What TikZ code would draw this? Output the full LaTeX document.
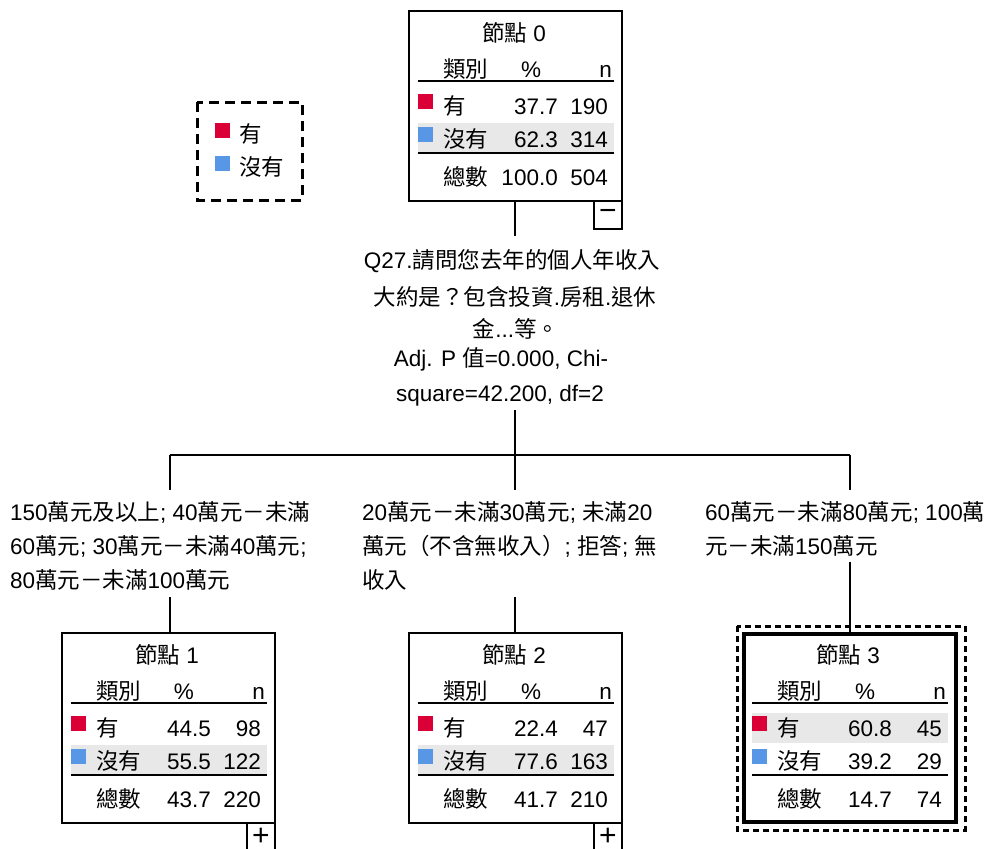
\documentclass[tikz,border=0pt]{standalone}
\usepackage{fontspec}
\setmainfont{Liberation Sans}
\newfontfamily\cjk{Noto Sans CJK TC}
\newcommand\C[1]{{\cjk #1}}
\definecolor{cyes}{RGB}{218,0,55}
\definecolor{cno}{RGB}{88,150,230}
\definecolor{bandgray}{RGB}{232,232,232}
\tikzset{
  txt/.style={inner sep=0pt,font=\fontsize{22.5}{26}\selectfont,text height=19.8pt,text depth=2.7pt},
  nodebox/.style={draw,line width=1.2pt,minimum width=213pt,minimum height=190pt,inner sep=0pt},
  selbox/.style={draw,line width=4pt,minimum width=212pt,minimum height=188pt,inner sep=0pt},
  rule/.style={line width=1.3pt},
  conn/.style={line width=1.2pt},
  togglebox/.style={draw,line width=1.2pt,minimum width=28pt,minimum height=28pt,inner sep=0pt,font=\fontsize{30}{32}\selectfont}
}
% #1 name, #2 x, #3 y, #4 title number, #5 band top, #6 box style
\newcommand\TreeNode[6]{%
\begin{scope}[shift={(#2,#3)}]
  \fill[bandgray] (9,#5) rectangle (205,#5+30);
  \node[#6] (#1) at (106.5,95) {};
  \node[txt] (#1-title) at (105,22) {\C{節點} #4};
  \node[txt,anchor=west] (#1-hcat) at (34,58) {\C{類別}};
  \node[txt] (#1-hpct) at (122,58) {\%};
  \node[txt,anchor=east] (#1-hn) at (203,58) {n};
  \draw[rule] (9,70) -- (205,70);
  \fill[cyes] (9,83) rectangle (24,98);
  \node[txt,anchor=west] (#1-c1) at (34,95) {\C{有}};
  \fill[cno] (9,116) rectangle (24,131);
  \node[txt,anchor=west] (#1-c2) at (34,128) {\C{沒有}};
  \draw[rule] (9,142) -- (205,142);
  \node[txt,anchor=west] (#1-ct) at (34,166) {\C{總數}};
\end{scope}}
% #1 name, #2 x, #3 y, values
\newcommand\TreeVals[9]{%
\begin{scope}[shift={(#2,#3)}]
  \node[txt,anchor=east] (#1-p1) at (149,95) {#4};
  \node[txt,anchor=east] (#1-n1) at (199,95) {#5};
  \node[txt,anchor=east] (#1-p2) at (149,128) {#6};
  \node[txt,anchor=east] (#1-n2) at (199,128) {#7};
  \node[txt,anchor=east] (#1-pt) at (149,166) {#8};
  \node[txt,anchor=east] (#1-nt) at (199,166) {#9};
\end{scope}}
% #1 name, #2 x, #3 y, #4 symbol
\newcommand\TreeToggle[4]{%
\begin{scope}[shift={(#2,#3)}]
  \node[togglebox] (#1-toggle) at (199,204) {#4};
  \draw[line width=2.6pt] (213,0) -- (213,218.6);
\end{scope}}

\begin{document}
\begin{tikzpicture}[x=1pt,y=-1pt]
\useasboundingbox[fill=white] (0,0) rectangle (989,849);

% legend
\draw[line width=3pt,dash pattern=on 10pt off 6pt] (197,102) rectangle (302,200);
\fill[cyes] (215,123) rectangle (230,138);
\node[txt,anchor=west] (leg1) at (239,134) {\C{有}};
\fill[cno] (215,156) rectangle (230,171);
\node[txt,anchor=west] (leg2) at (239,167) {\C{沒有}};

% nodes
\TreeNode{n0}{409}{11}{0}{112}{nodebox}
\TreeVals{n0}{409}{11}{37.7}{190}{62.3}{314}{100.0}{504}
\TreeToggle{n0}{409}{11}{−}

\TreeNode{n1}{62}{633}{1}{112}{nodebox}
\TreeVals{n1}{62}{633}{44.5}{98}{55.5}{122}{43.7}{220}
\TreeToggle{n1}{62}{633}{+}

\TreeNode{n2}{409}{633}{2}{112}{nodebox}
\TreeVals{n2}{409}{633}{22.4}{47}{77.6}{163}{41.7}{210}
\TreeToggle{n2}{409}{633}{+}

\TreeNode{n3}{743}{633}{3}{80}{selbox}
\TreeVals{n3}{743}{633}{60.8}{45}{39.2}{29}{14.7}{74}
\draw[line width=3pt,dash pattern=on 6pt off 4pt] (737,626) rectangle (965,830);

% split text
\node[txt] (sp1) at (512,260) {Q27.\C{請問您去年的個人年收入}};
\node[txt] (sp2) at (515,297) {\C{大約是？包含投資}.\C{房租}.\C{退休}};
\node[txt] (sp3) at (516,329) {\C{金}...\C{等。}};
\node[txt] (sp4) at (501,358) {Adj. P \C{值}=0.000, Chi-};
\node[txt] (sp5) at (500,393) {square=42.200, df=2};

% branch labels
\node[txt,anchor=west] (bl1) at (10,512) {150\C{萬元及以上}; 40\C{萬元－未滿}};
\node[txt,anchor=west] (bl2) at (10,546) {60\C{萬元}; 30\C{萬元－未滿}40\C{萬元};};
\node[txt,anchor=west] (bl3) at (10,580) {80\C{萬元－未滿}100\C{萬元}};
\node[txt,anchor=west] (bm1) at (362,512) {20\C{萬元－未滿}30\C{萬元}; \C{未滿}20};
\node[txt,anchor=west] (bm2) at (362,546) {\C{萬元（不含無收入）}; \C{拒答}; \C{無}};
\node[txt,anchor=west] (bm3) at (362,580) {\C{收入}};
\node[txt,anchor=west] (br1) at (705,512) {60\C{萬元－未滿}80\C{萬元}; 100\C{萬}};
\node[txt,anchor=west] (br2) at (705,546) {\C{元－未滿}150\C{萬元}};

% connectors
\coordinate (sTop) at (515,236);
\coordinate (sBot) at (515,410);
\coordinate (hub) at (515,455);
\coordinate (hubL) at (170,455);
\coordinate (hubR) at (850,455);
\coordinate (eL) at (170,490);
\coordinate (eM) at (515,490);
\coordinate (eR) at (850,490);
\coordinate (fL) at (170,597);
\coordinate (fM) at (515,597);
\coordinate (fR) at (850,562);
\draw[conn] (n0.south -| sTop) -- (sTop);
\draw[conn] (sBot) -- (hub);
\draw[conn] (hubL) -- (hubR);
\draw[conn] (hubL) -- (eL);
\draw[conn] (hub) -- (eM);
\draw[conn] (hubR) -- (eR);
\draw[conn] (fL) -- (fL |- n1.north);
\draw[conn] (fM) -- (fM |- n2.north);
\draw[conn] (fR) -- (fR |- n3.north);
\end{tikzpicture}
\end{document}
